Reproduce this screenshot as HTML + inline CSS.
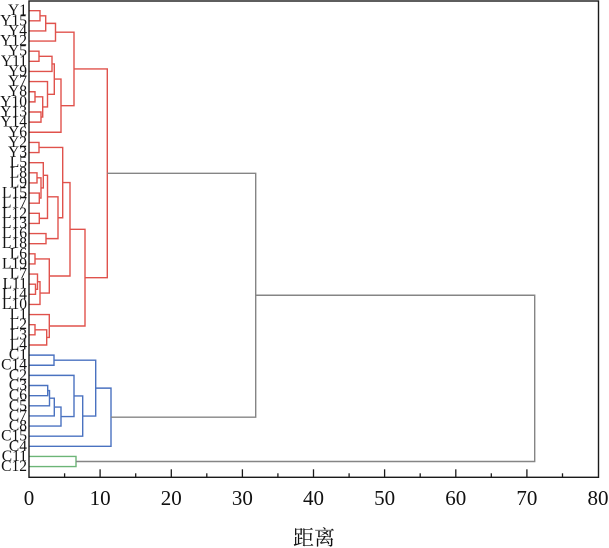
<!DOCTYPE html>
<html>
<head>
<meta charset="utf-8">
<style>
  html, body { margin: 0; padding: 0; background: #ffffff; }
  body { width: 609px; height: 548px; overflow: hidden; }
  svg { display: block; }
  .lbl { font-family: "Liberation Serif", "Noto Serif CJK SC", serif; font-size: 15.5px; fill: #111; }
  .tick { font-family: "Liberation Serif", serif; font-size: 21px; fill: #111; }
  .xt { font-family: "Liberation Serif", "Noto Serif CJK SC", "Noto Sans CJK SC", serif; font-size: 21px; fill: #111; }
</style>
</head>
<body>
<svg width="609" height="548" viewBox="0 0 609 548" xmlns="http://www.w3.org/2000/svg">
  <rect x="0" y="0" width="609" height="548" fill="#ffffff"/>

  <!-- red cluster -->
  <g fill="none" stroke="#e0524c" stroke-width="1.4">
    <path d="M29 10.7 H40 V20.83 H29"/>
    <path d="M40 15.77 H45.7 V30.96 H29"/>
    <path d="M45.7 23.37 H55.5 V41.09 H29"/>
    <path d="M29 51.22 H39 V61.35 H29"/>
    <path d="M39 56.29 H52 V71.48 H29"/>
    <path d="M29 91.74 H35 V101.87 H29"/>
    <path d="M29 112 H41 V122.13 H29"/>
    <path d="M35 96.81 H42.7 V117.07 H41"/>
    <path d="M29 81.61 H47.5 V106.94 H42.7"/>
    <path d="M52 63.89 H54.3 V94.28 H47.5"/>
    <path d="M54.3 79.09 H61 V132.26 H29"/>
    <path d="M55.5 32.23 H74 V105.68 H61"/>

    <path d="M29 142.39 H39 V152.52 H29"/>
    <path d="M29 172.78 H37 V182.91 H29"/>
    <path d="M29 193.04 H39.3 V203.17 H29"/>
    <path d="M37 177.85 H41 V198.11 H39.3"/>
    <path d="M29 162.65 H43.3 V187.98 H41"/>
    <path d="M29 213.3 H39.3 V223.43 H29"/>
    <path d="M43.3 175.32 H47.5 V218.37 H39.3"/>
    <path d="M29 233.56 H46 V243.69 H29"/>
    <path d="M47.5 196.85 H58 V238.63 H46"/>
    <path d="M39 147.46 H62.7 V217.74 H58"/>
    <path d="M29 253.82 H35 V263.95 H29"/>
    <path d="M29 284.21 H35.5 V294.34 H29"/>
    <path d="M29 274.08 H37.5 V289.28 H35.5"/>
    <path d="M37.5 281.68 H40 V304.47 H29"/>
    <path d="M35 258.89 H49.3 V293.08 H40"/>
    <path d="M62.7 182.6 H70 V275.99 H49.3"/>
    <path d="M29 324.73 H35 V334.86 H29"/>
    <path d="M35 329.8 H46.7 V344.99 H29"/>
    <path d="M29 314.6 H49.3 V337.4 H46.7"/>
    <path d="M70 229.3 H85 V326 H49.3"/>
    <path d="M74 68.96 H107.3 V277.65 H85"/>
  </g>

  <!-- blue cluster -->
  <g fill="none" stroke="#4a72c0" stroke-width="1.4">
    <path d="M29 355.12 H54 V365.25 H29"/>
    <path d="M29 385.51 H47.7 V395.64 H29"/>
    <path d="M47.7 390.58 H49.5 V405.77 H29"/>
    <path d="M49.5 398.18 H54.3 V415.9 H29"/>
    <path d="M54.3 407.04 H61 V426.03 H29"/>
    <path d="M29 375.38 H74 V416.54 H61"/>
    <path d="M74 395.96 H82.7 V436.16 H29"/>
    <path d="M54 360.19 H95.7 V416.06 H82.7"/>
    <path d="M95.7 388.13 H111 V446.29 H29"/>
  </g>

  <!-- green cluster -->
  <g fill="none" stroke="#6cb577" stroke-width="1.4">
    <path d="M29 456.42 H76 V466.55 H29"/>
  </g>

  <!-- gray links -->
  <g fill="none" stroke="#858585" stroke-width="1.4">
    <path d="M107.3 173.3 H255.7 V417.21 H111"/>
    <path d="M255.7 295.26 H534.7 V461.49 H76"/>
  </g>

  <!-- frame -->
  <rect x="29" y="1" width="569.5" height="476.3" fill="none" stroke="#1a1a1a" stroke-width="1.4"/>

  <!-- ticks -->
  <g stroke="#1a1a1a" stroke-width="1.3">
    <line x1="100.1" y1="469.3" x2="100.1" y2="477.3"/>
    <line x1="171.3" y1="469.3" x2="171.3" y2="477.3"/>
    <line x1="242.4" y1="469.3" x2="242.4" y2="477.3"/>
    <line x1="313.5" y1="469.3" x2="313.5" y2="477.3"/>
    <line x1="384.6" y1="469.3" x2="384.6" y2="477.3"/>
    <line x1="455.8" y1="469.3" x2="455.8" y2="477.3"/>
    <line x1="526.9" y1="469.3" x2="526.9" y2="477.3"/>
    <line x1="64.6" y1="473.3" x2="64.6" y2="477.3"/>
    <line x1="135.7" y1="473.3" x2="135.7" y2="477.3"/>
    <line x1="206.8" y1="473.3" x2="206.8" y2="477.3"/>
    <line x1="277.9" y1="473.3" x2="277.9" y2="477.3"/>
    <line x1="349.1" y1="473.3" x2="349.1" y2="477.3"/>
    <line x1="420.2" y1="473.3" x2="420.2" y2="477.3"/>
    <line x1="491.3" y1="473.3" x2="491.3" y2="477.3"/>
    <line x1="562.5" y1="473.3" x2="562.5" y2="477.3"/>
  </g>

  <!-- tick labels -->
  <g class="tick" text-anchor="middle">
    <text x="29" y="505">0</text>
    <text x="100.1" y="505">10</text>
    <text x="171.3" y="505">20</text>
    <text x="242.4" y="505">30</text>
    <text x="313.5" y="505">40</text>
    <text x="384.6" y="505">50</text>
    <text x="455.8" y="505">60</text>
    <text x="526.9" y="505">70</text>
    <text x="598" y="505">80</text>
  </g>

  <text class="xt" x="314" y="545" text-anchor="middle">距离</text>

  <!-- leaf labels -->
  <g class="lbl" text-anchor="end">
    <text x="27" y="15.2">Y1</text>
    <text x="27" y="25.3">Y15</text>
    <text x="27" y="35.4">Y4</text>
    <text x="27" y="45.6">Y12</text>
    <text x="27" y="55.7">Y5</text>
    <text x="27" y="65.8">Y11</text>
    <text x="27" y="76.0">Y9</text>
    <text x="27" y="86.1">Y7</text>
    <text x="27" y="96.2">Y8</text>
    <text x="27" y="106.4">Y10</text>
    <text x="27" y="116.5">Y13</text>
    <text x="27" y="126.6">Y14</text>
    <text x="27" y="136.8">Y6</text>
    <text x="27" y="146.9">Y2</text>
    <text x="27" y="157.0">Y3</text>
    <text x="27" y="167.1">L5</text>
    <text x="27" y="177.3">L8</text>
    <text x="27" y="187.4">L9</text>
    <text x="27" y="197.5">L15</text>
    <text x="27" y="207.7">L17</text>
    <text x="27" y="217.8">L12</text>
    <text x="27" y="227.9">L13</text>
    <text x="27" y="238.1">L16</text>
    <text x="27" y="248.2">L18</text>
    <text x="27" y="258.3">L6</text>
    <text x="27" y="268.4">L19</text>
    <text x="27" y="278.6">L7</text>
    <text x="27" y="288.7">L11</text>
    <text x="27" y="298.8">L14</text>
    <text x="27" y="309.0">L10</text>
    <text x="27" y="319.1">L1</text>
    <text x="27" y="329.2">L2</text>
    <text x="27" y="339.4">L3</text>
    <text x="27" y="349.5">L4</text>
    <text x="27" y="359.6">C1</text>
    <text x="27" y="369.7">C14</text>
    <text x="27" y="379.9">C2</text>
    <text x="27" y="390.0">C3</text>
    <text x="27" y="400.1">C6</text>
    <text x="27" y="410.3">C5</text>
    <text x="27" y="420.4">C7</text>
    <text x="27" y="430.5">C8</text>
    <text x="27" y="440.7">C15</text>
    <text x="27" y="450.8">C4</text>
    <text x="27" y="460.9">C11</text>
    <text x="27" y="471.0">C12</text>
  </g>
</svg>
</body>
</html>
